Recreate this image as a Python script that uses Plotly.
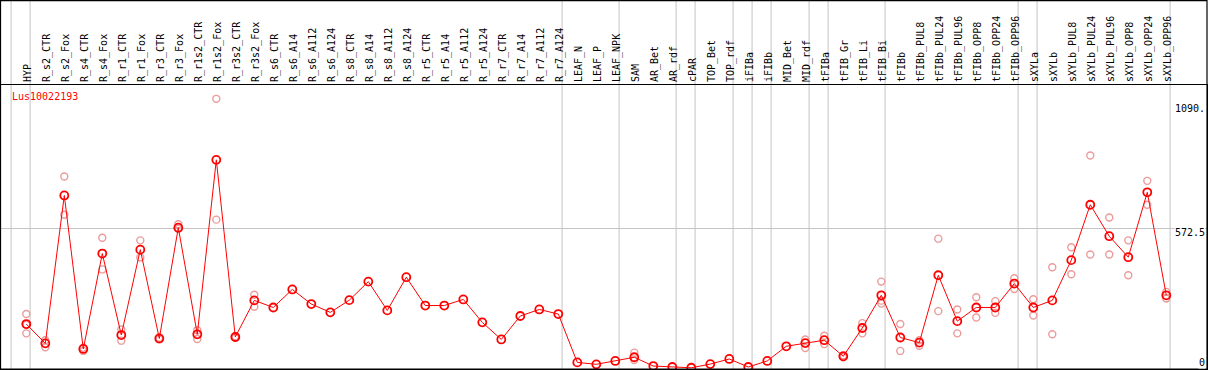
import plotly.graph_objects as go

categories = ["HYP", "R_s2_CTR", "R_s2_Fox", "R_s4_CTR", "R_s4_Fox", "R_r1_CTR", "R_r1_Fox",
              "R_r3_CTR", "R_r3_Fox", "R_r1s2_CTR", "R_r1s2_Fox", "R_r3s2_CTR", "R_r3s2_Fox",
              "R_s6_CTR", "R_s6_A14", "R_s6_A112", "R_s6_A124", "R_s8_CTR", "R_s8_A14",
              "R_s8_A112", "R_s8_A124", "R_r5_CTR", "R_r5_A14", "R_r5_A112", "R_r5_A124",
              "R_r7_CTR", "R_r7_A14", "R_r7_A112", "R_r7_A124", "LEAF_N", "LEAF_P", "LEAF_NPK",
              "SAM", "AR_Bet", "AR_rdf", "cPAR", "TOP_Bet", "TOP_rdf", "iFIBa", "iFIBb",
              "MID_Bet", "MID_rdf", "tFIBa", "tFIB_Gr", "tFIB_Li", "tFIB_Bi", "tFIBb",
              "tFIBb_PUL8", "tFIBb_PUL24", "tFIBb_PUL96", "tFIBb_OPP8", "tFIBb_OPP24",
              "tFIBb_OPP96", "sXYLa", "sXYLb", "sXYLb_PUL8", "sXYLb_PUL24", "sXYLb_PUL96",
              "sXYLb_OPP8", "sXYLb_OPP24", "sXYLb_OPP96"]

mean_values = [180, 101, 707, 78, 469, 135, 485, 121, 575, 138, 853, 127, 277, 248, 322,
               262, 228, 278, 354, 236, 372, 256, 256, 281, 187, 117, 213, 240, 221, 23,
               15, 29, 44, 8, 4, 1, 16, 37, 4, 29, 89, 102, 114, 48, 164, 298, 125, 104,
               380, 192, 248, 248, 346, 248, 277, 442, 669, 540, 454, 720, 298]

N = None
rep_1 = [221, 114, 785, 83, 534, 158, 523, 124, 589, 155, 1103, 130, 300, N, N,
         N, N, N, N, N, N, N, N, N, N, N, N, N, N, N,
         N, N, 63, N, N, N, N, N, N, N, N, 117, 132, 52, 184, 354, 180, 114,
         530, 240, 290, 274, 368, 282, 413, 495, 871, 617, 523, 767, 312]
rep_2 = [177, 85, 628, 70, 404, 112, 453, 118, 571, 119, 608, 124, 251, N, N,
         N, N, N, N, N, N, N, N, N, N, N, N, N, N, N,
         N, N, 33, N, N, N, N, N, N, N, N, 82, 98, 44, 142, 264, 70, 91,
         233, 142, 207, 226, 324, 215, 138, 384, 465, 465, 380, 669, 285]
rep_3 = [142, N, N, N, N, N, N, N, N, N, N, N, N, N, N,
         N, N, N, N, N, N, N, N, N, N, N, N, N, N, N,
         N, N, N, N, N, N, N, N, N, N, N, N, N, N, N, 276, N, N,
         N, N, N, N, N, N, N, N, N, N, N, N, N]

group_last_index = [-1, 0, 28, 31, 34, 35, 37, 38, 39, 41, 42, 45, 52, 53, 60]

y_tick_values = [1090, 572.5, 0]
y_tick_text = ["1090.", "572.5", "0"]
gene_name = "Lus10022193"

MONO = "DejaVu Sans Mono"
idx = list(range(len(categories)))

rx, ry = [], []
for reps in (rep_1, rep_2, rep_3):
    for i, v in enumerate(reps):
        if v is not None:
            rx.append(i)
            ry.append(v)

fig = go.Figure()
fig.add_trace(go.Scatter(x=rx, y=ry, mode="markers", hoverinfo="skip",
                         marker=dict(symbol="circle-open", size=7, color="#eb9b9b",
                                     line=dict(width=1.4, color="#eb9b9b"))))
fig.add_trace(go.Scatter(x=idx, y=mean_values, mode="lines+markers",
                         line=dict(color="#ff0000", width=1),
                         marker=dict(symbol="circle-open", size=8, color="#ff0000",
                                     line=dict(width=1.8, color="#ff0000"))))
fig.add_trace(go.Scatter(x=idx, y=mean_values, mode="markers", xaxis="x2",
                         hoverinfo="skip", marker=dict(opacity=0)))

xr = [-1.3316, 62.143]
top_paper = 369 / 284

shapes = []
for g in group_last_index:
    shapes.append(dict(type="line", xref="x", yref="paper", x0=g + 0.2, x1=g + 0.2,
                       y0=0, y1=top_paper, line=dict(color="#c4c4c4", width=1), layer="below"))
shapes.append(dict(type="rect", xref="paper", yref="paper", x0=-0.0004, x1=1.0,
                   y0=0, y1=top_paper - 0.002, line=dict(color="black", width=1.2)))

annotations = [dict(text=gene_name, xref="paper", yref="paper", x=0.0075, y=0.961,
                    xanchor="left", yanchor="middle", showarrow=False,
                    font=dict(family=MONO, size=10, color="#ff0000"))]
shifts = [-6, -4, 6]
for v, t, s in zip(y_tick_values, y_tick_text, shifts):
    annotations.append(dict(text=t, xref="paper", yref="y", x=0.9995, y=v, yshift=s,
                            xanchor="right", yanchor="middle", showarrow=False,
                            bgcolor="white", borderpad=0,
                            font=dict(family=MONO, size=10, color="black")))

fig.update_layout(
    width=1209, height=370, autosize=False,
    margin=dict(l=1, r=2, t=85, b=1, pad=0),
    paper_bgcolor="white", plot_bgcolor="white",
    showlegend=False,
    xaxis=dict(range=xr, showgrid=False, zeroline=False, showticklabels=False,
               showline=True, mirror=True, linecolor="black", linewidth=1, ticks=""),
    xaxis2=dict(range=xr, overlaying="x", side="top", tickmode="array",
                tickvals=idx, ticktext=categories, tickangle=-90, ticks="",
                ticklabelshift=1, ticklabelstandoff=2,
                showgrid=False, zeroline=False, showline=False,
                tickfont=dict(family=MONO, size=10, color="black")),
    yaxis=dict(range=[-4.1, 1159.7], tickmode="array", tickvals=[572.5],
               showticklabels=False, showgrid=True, gridcolor="#c4c4c4", gridwidth=1,
               zeroline=False, showline=True, mirror=True, linecolor="black",
               linewidth=1, ticks=""),
    shapes=shapes,
    annotations=annotations,
)

fig.write_html("out.html", config={"displayModeBar": False},
               post_script="document.body.style.margin='0';document.body.style.padding='0';"
                           "document.body.style.overflow='hidden';")
